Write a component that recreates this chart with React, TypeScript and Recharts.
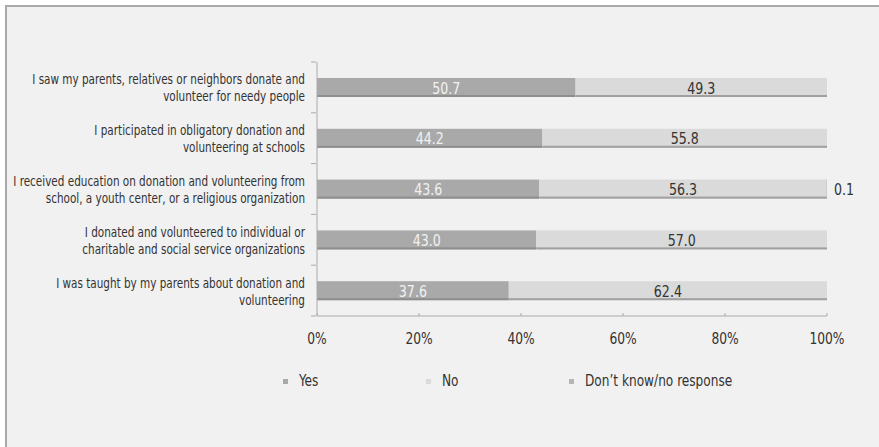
import { BarChart, Bar, XAxis, YAxis, LabelList } from 'recharts'

const categories = [
  ['I saw my parents, relatives or neighbors donate and', 'volunteer for needy people'],
  ['I participated in obligatory donation and', 'volunteering at schools'],
  ['I received education on donation and volunteering from', 'school, a youth center, or a religious organization'],
  ['I donated and volunteered to individual or', 'charitable and social service organizations'],
  ['I was taught by my parents about donation and', 'volunteering'],
]
const yesValues = [50.7, 44.2, 43.6, 43.0, 37.6]
const noValues = [49.3, 55.8, 56.3, 57.0, 62.4]
const dkValues = [0, 0, 0.1, 0, 0]
const xTicks = [0, 20, 40, 60, 80, 100]

const SERIES = [
  { key: 'yes', name: 'Yes', color: '#a9a9a9', edge: '#8e8e8e', text: '#f2f2f2', legendX: 283 },
  { key: 'no', name: 'No', color: '#dadada', edge: '#a0a0a0', text: '#333333', legendX: 426 },
  { key: 'dk', name: 'Don\u2019t know/no response', color: '#b5b5b5', edge: '#909090', text: '#333333', legendX: 569 },
]

const FONT = '"DejaVu Sans Condensed", "Liberation Sans Narrow", "Roboto", sans-serif'

const data = categories.map((lines, i) => ({
  id: String(i),
  lines,
  yes: yesValues[i],
  no: noValues[i],
  dk: dkValues[i],
}))

function ShadedBar(props: any) {
  const { x, y, width, height, fill, edge } = props
  if (!width || width <= 0) return null
  return (
    <g>
      <rect x={x} y={y} width={width} height={height} fill={fill} />
      <rect x={x} y={y + height - 2} width={width} height={2} fill={edge} />
    </g>
  )
}

function CategoryTick(props: any) {
  const { x, y, payload, index } = props
  const row = data[index] ?? data[Number(payload.value)]
  const half = 254 / 5 / 2
  return (
    <g>
      <line x1={x + 6} x2={x + 11} y1={y + half} y2={y + half} stroke="#aaaaaa" />
      {index === 0 && <line x1={x + 6} x2={x + 11} y1={y - half} y2={y - half} stroke="#aaaaaa" />}
      <g transform={`translate(${x},${y}) scale(0.86,1)`}>
        <text textAnchor="end" fill="#333" fontSize={13.5} fontFamily={FONT}>
          <tspan x={0} y={-3}>{row.lines[0]}</tspan>
          <tspan x={0} y={14}>{row.lines[1]}</tspan>
        </text>
      </g>
    </g>
  )
}

function PercentTick(props: any) {
  const { x, y, payload } = props
  return (
    <g>
      <line x1={x} x2={x} y1={y - 3} y2={y} stroke="#aaaaaa" />
      <g transform={`translate(${x},${y + 28}) scale(0.88,1)`}>
        <text x={0} y={0} textAnchor="middle" fill="#333" fontSize={15.5} fontFamily={FONT}>
          {payload.value}%
        </text>
      </g>
    </g>
  )
}

function makeLabel(color: string, outside: boolean) {
  return (props: any) => {
    const { x, y, width, height, value } = props
    if (!value) return null
    const tx = outside ? x + width + 7 : x + width / 2
    return (
      <g transform={`translate(${tx},${y + height / 2 + 6}) scale(0.85,1)`}>
        <text x={0} y={0} textAnchor={outside ? 'start' : 'middle'}
          fill={color} fontSize={16.5} fontFamily={FONT}>
          {value.toFixed(1)}
        </text>
      </g>
    )
  }
}

function LegendRow() {
  return (
    <div style={{ position: 'absolute', left: 0, top: 372, width: 879, height: 20, fontFamily: FONT, fontSize: 15, color: '#333' }}>
      {SERIES.map((s) => (
        <div key={s.key} style={{ position: 'absolute', left: s.legendX, top: 0, display: 'flex', alignItems: 'center', whiteSpace: 'nowrap' }}>
          <span style={{ width: 5, height: 5, background: s.color, display: 'inline-block', marginRight: 11 }} />
          <span style={{ display: 'inline-block', transform: 'scaleX(0.9)', transformOrigin: 'left center' }}>{s.name}</span>
        </div>
      ))}
    </div>
  )
}

export default function App() {
  return (
    <div style={{ position: 'absolute', left: 0, top: 0, width: 879, height: 447, background: '#ffffff', overflow: 'hidden' }}>
      <div style={{
        position: 'absolute', left: 5, top: 5, width: 874, height: 442, background: '#f1f1f1',
        borderTop: '2px solid #a9a9a9', borderLeft: '2px solid #a9a9a9', boxSizing: 'border-box',
      }} />
      <div style={{ position: 'absolute', left: 0, top: 0 }}>
        <BarChart width={879} height={447} data={data} layout="vertical" barSize={19}
          margin={{ top: 62, right: 52, bottom: 101, left: 0 }}>
          <XAxis type="number" domain={[0, 100]} ticks={xTicks} interval={0} height={30}
            axisLine={{ stroke: '#aaaaaa' }} tickLine={false} tickSize={0} tickMargin={0}
            tick={<PercentTick />} />
          <YAxis type="category" dataKey="id" width={317} interval={0}
            axisLine={{ stroke: '#aaaaaa' }} tickLine={false} tickSize={0} tickMargin={12}
            tick={<CategoryTick />} />
          {SERIES.map((s) => (
            <Bar key={s.key} dataKey={s.key} name={s.name} stackId="a" fill={s.color}
              isAnimationActive={false}
              shape={(p: any) => <ShadedBar {...p} fill={s.color} edge={s.edge} />}>
              <LabelList dataKey={s.key} content={makeLabel(s.text, s.key === 'dk')} />
            </Bar>
          ))}
        </BarChart>
      </div>
      <LegendRow />
    </div>
  )
}
